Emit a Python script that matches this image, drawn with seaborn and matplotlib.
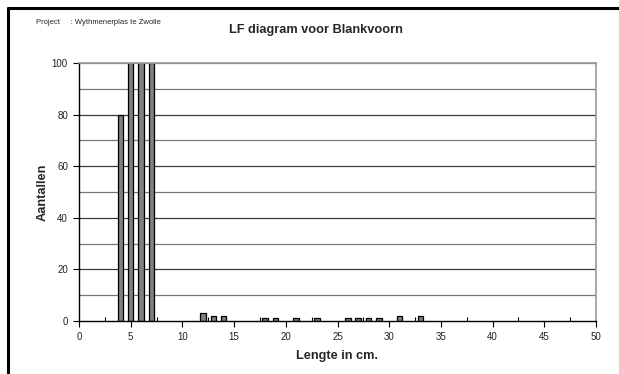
import matplotlib
matplotlib.use("Agg")
import matplotlib.pyplot as plt
from matplotlib.lines import Line2D
from matplotlib.ticker import MultipleLocator
import seaborn as sns
import pandas as pd

# Length-frequency counts for blankvoorn (roach)
lengths = [4, 5, 6, 7, 12, 13, 14, 18, 19, 21, 23, 26, 27, 28, 29, 31, 33]
counts = [80, 160, 140, 120, 3, 2, 2, 1, 1, 1, 1, 1, 1, 1, 1, 2, 2]

title = "LF diagram voor Blankvoorn"
project = "Project     : Wythmenerplas te Zwolle"
xlabel = "Lengte in cm."
ylabel = "Aantallen"

sns.set_theme(style="white")
plt.rcParams["font.family"] = ["Liberation Sans", "DejaVu Sans"]

df = pd.DataFrame({"lengte": lengths, "aantal": counts})

fig = plt.figure(figsize=(6.19, 3.74), dpi=100)
ax = fig.add_axes([79 / 619, 1 - 321 / 374, (596 - 79) / 619, (321 - 63) / 374])

# horizontal gridlines every 10
for v in range(10, 101, 10):
    ax.axhline(v, color="#3a3a3a" if v % 20 == 0 and v < 100 else "#777777",
               lw=0.9, zorder=0)

sns.barplot(data=df, x="lengte", y="aantal", native_scale=True, width=0.52,
            color="#808080", saturation=1, edgecolor="black", linewidth=0.9,
            ax=ax, zorder=2)

ax.set_xlim(0, 50)
ax.set_ylim(0, 100)
ax.xaxis.set_major_locator(MultipleLocator(5))
ax.xaxis.set_minor_locator(MultipleLocator(2.5))
ax.yaxis.set_major_locator(MultipleLocator(20))
ax.tick_params(axis="x", which="major", direction="out", length=4, width=0.8,
               colors="black", labelsize=7, pad=4, bottom=True)
ax.tick_params(axis="x", which="minor", direction="in", length=3, width=0.8,
               colors="black", bottom=True)
ax.tick_params(axis="y", which="major", direction="out", length=4, width=0.8,
               colors="black", labelsize=7, pad=4, left=True)
for lab in ax.get_xticklabels() + ax.get_yticklabels():
    lab.set_color("#222222")

for side in ["left", "bottom"]:
    ax.spines[side].set_color("black")
    ax.spines[side].set_linewidth(1.0)
for side in ["top", "right"]:
    ax.spines[side].set_color("#999999")
    ax.spines[side].set_linewidth(1.2)

ax.set_xlabel(xlabel, fontsize=9.2, fontweight="bold", labelpad=6)
ax.set_ylabel(ylabel, fontsize=9.2, fontweight="bold", labelpad=2)

fig.text(316 / 619, 1 - 30 / 374, title, fontsize=9.2, fontweight="bold",
         ha="center", va="center")
fig.text(36 / 619, 1 - 22 / 374, project, fontsize=5.5, ha="left", va="center")

# page frame lines
fig.add_artist(Line2D([8 / 619, 1], [1 - 8 / 374, 1 - 8 / 374],
                      transform=fig.transFigure, color="black", lw=2.2))
fig.add_artist(Line2D([8 / 619, 8 / 619], [1 - 8 / 374, 0],
                      transform=fig.transFigure, color="black", lw=2.2))

fig.savefig("out.png", dpi=100, facecolor="white")
